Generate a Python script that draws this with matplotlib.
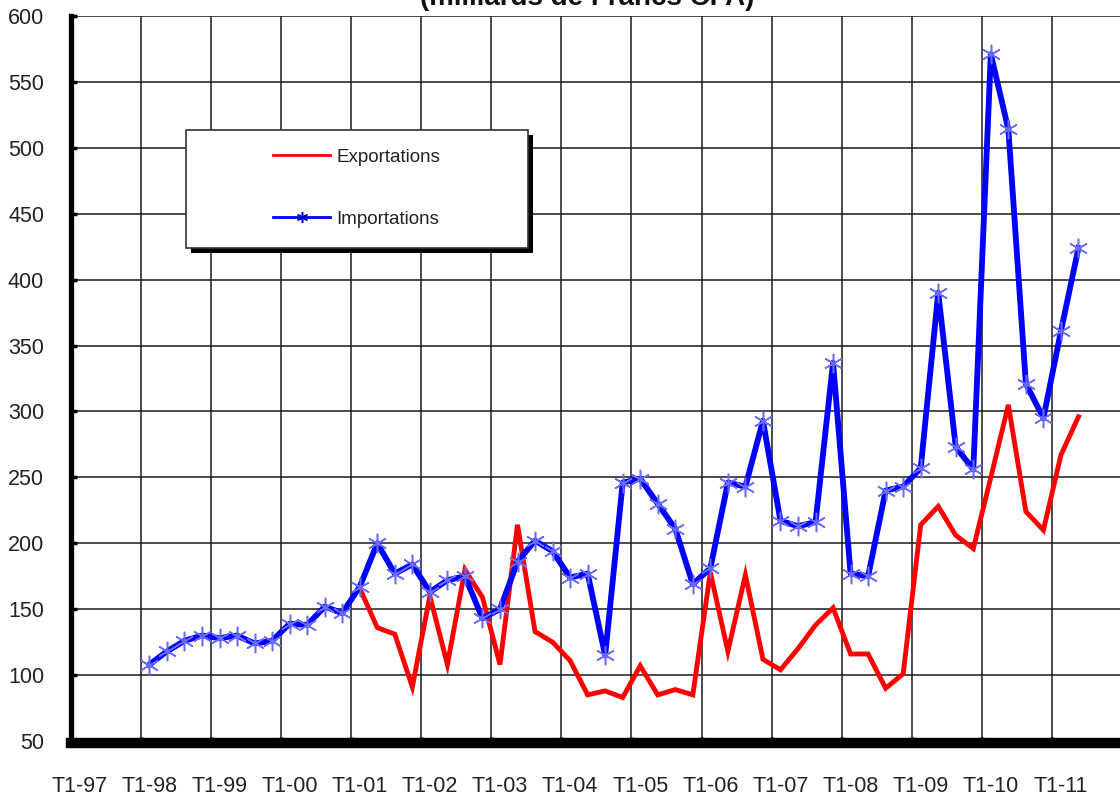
import numpy as np
import matplotlib
matplotlib.use("Agg")
import matplotlib.pyplot as plt
from matplotlib.patches import Rectangle

plt.rcParams["font.family"] = ["Liberation Sans", "DejaVu Sans"]

# quarterly categories, T1-97 .. T4-11
years = ["97", "98", "99", "00", "01", "02", "03", "04", "05", "06", "07", "08", "09", "10", "11"]
tick_labels = ["T1-" + y for y in years]
n_quarters = 4 * len(years)

# Importations, from T1-98 (index 4) to T2-11 (index 57)
imp_start = 4
importations = [108, 118, 126, 130, 128, 130, 124, 126,
                139, 138, 152, 147, 167, 200, 177, 184,
                163, 172, 175, 143, 150, 186, 202, 194,
                174, 177, 115, 246, 249, 230, 211, 169,
                181, 246, 243, 293, 217, 213, 216, 337,
                177, 175, 240, 243, 257, 390, 273, 256,
                571, 514, 321, 295, 361, 424]

# Exportations, from T1-01 (index 16) to T2-11
exp_start = 16
exportations = [166, 136, 131, 91, 160, 108, 180, 159,
                108, 214, 133, 125, 111, 85, 88, 83,
                107, 85, 89, 85, 178, 118, 176, 112,
                104, 120, 138, 151, 116, 116, 90, 101,
                214, 228, 206, 196, 250, 305, 224, 210,
                267, 296]

x_imp = np.arange(imp_start, imp_start + len(importations)) + 0.5
x_exp = np.arange(exp_start, exp_start + len(exportations)) + 0.5

W, H = 1120, 796
fig = plt.figure(figsize=(W / 100, H / 100), dpi=100)
ax = fig.add_axes([70.5 / W, 55 / H, 60 * 17.53 / W, 725 / H])

ax.plot(x_exp, exportations, color="#ff0000", lw=3.5, zorder=3,
        solid_joinstyle="miter", label="Exportations")
ax.plot(x_imp, importations, color="#0000ff", lw=4.2, zorder=4,
        marker=(6, 2, 0), markersize=14, markeredgewidth=1.1,
        markeredgecolor="#6a6aff", label="Importations")

ax.set_xlim(0, n_quarters)
ax.set_ylim(50, 600)
ax.set_yticks(np.arange(50, 601, 50))
ax.set_xticks(np.arange(0, n_quarters, 4) + 0.5)
ax.set_xticklabels(tick_labels)
ax.set_xticks(np.arange(4, n_quarters, 4), minor=True)

ax.grid(False)
for y in np.arange(100, 601, 50):
    ax.axhline(y, color="#1a1a1a", lw=1.1, zorder=1)
for x in np.arange(4, n_quarters, 4):
    ax.axvline(x, color="#1a1a1a", lw=1.1, zorder=1)

ax.tick_params(axis="x", which="major", length=0, pad=24, labelsize=15.5, labelcolor="#222222")
ax.tick_params(axis="x", which="minor", direction="in", length=4, width=2.5, color="black")
ax.tick_params(axis="y", direction="in", length=4, width=2.5, pad=19, labelsize=15.5,
               labelcolor="#222222")

for s in ["top", "right"]:
    ax.spines[s].set_visible(False)
ax.spines["left"].set_linewidth(3.8)
ax.spines["bottom"].set_linewidth(7.5)
ax.spines["bottom"].set_position(("outward", 1.5))

fig.text(587 / W, 1 - 5 / H, "(milliards de Francs CFA)", ha="center", va="baseline",
         fontsize=20, fontweight="bold", color="#111111")

# legend box with hard shadow
fig.add_artist(Rectangle((191 / W, 1 - 253 / H), 342 / W, 118 / H,
                         transform=fig.transFigure, facecolor="black", edgecolor="none", zorder=3))
fig.add_artist(Rectangle((186 / W, 1 - 248 / H), 342 / W, 118 / H,
                         transform=fig.transFigure, facecolor="white", edgecolor="#333333",
                         lw=1.2, zorder=4))
leg = fig.legend(loc="center left", bbox_to_anchor=(264 / W, 1 - 188 / H), frameon=False,
                 borderpad=0, fontsize=13.5, handlelength=3.0, handletextpad=0.35,
                 labelspacing=2.4)
leg.set_zorder(6)
for t in leg.get_texts():
    t.set_color("#222222")
for h in leg.legend_handles:
    h.set_linewidth(2)
    h.set_markersize(8)
    h.set_markeredgecolor("#0000cc")

fig.savefig("out.png", dpi=100)
